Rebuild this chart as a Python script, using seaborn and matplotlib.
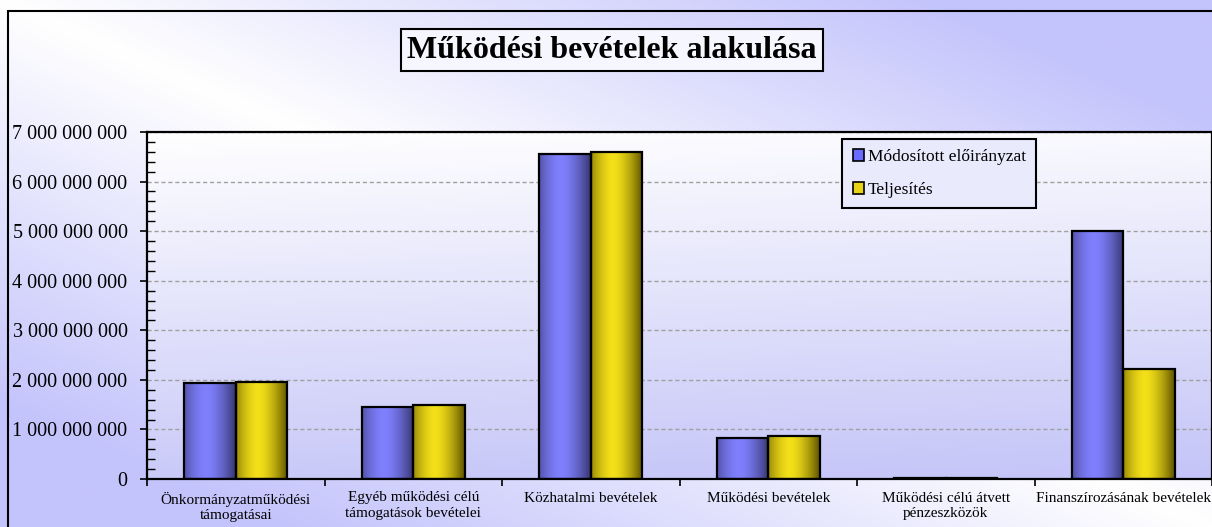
import numpy as np
import pandas as pd
import matplotlib
matplotlib.use("Agg")
import matplotlib.pyplot as plt
import seaborn as sns
import matplotlib.ticker as ticker
from matplotlib.colors import LinearSegmentedColormap
from matplotlib.patches import Patch, Rectangle

# adatok
kategoriak = [
    "Önkormányzatműködési\ntámogatásai",
    "Egyéb működési célú\ntámogatások bevételei",
    "Közhatalmi bevételek",
    "Működési bevételek",
    "Működési célú átvett\npénzeszközök",
    "Finanszírozásának bevételek",
]
modositott = [1.94e9, 1.45e9, 6.56e9, 0.83e9, 0.02e9, 5.01e9]
teljesites = [1.95e9, 1.49e9, 6.59e9, 0.87e9, 0.02e9, 2.22e9]
sorozatok = ["Módosított előirányzat", "Teljesítés"]
cim = "Működési bevételek alakulása"

df = pd.DataFrame({"kategoria": kategoriak, sorozatok[0]: modositott, sorozatok[1]: teljesites})
df = df.melt(id_vars="kategoria", var_name="sorozat", value_name="ertek")

sns.set_theme(style="white")
plt.rcParams['font.family'] = ['Liberation Serif', 'DejaVu Serif']
plt.rcParams['text.color'] = 'black'
plt.rcParams['xtick.color'] = 'black'
plt.rcParams['ytick.color'] = 'black'

kek = '#7070f0'
sarga = '#e8d414'
lila = '#c4c4fc'

fig = plt.figure(figsize=(12.12, 5.27), dpi=100)

# háttér színátmenet (egész ábra)
bg = fig.add_axes([0, 0, 1, 1], zorder=-10)
xx, yy = np.meshgrid(np.linspace(0, 1, 400), np.linspace(0, 1, 200))
bg.imshow(np.clip(np.abs(xx - yy) * 1.3, 0, 1), cmap=LinearSegmentedColormap.from_list('bg', ['#ffffff', lila]),
          aspect='auto', extent=[0, 1, 0, 1], vmin=0, vmax=1)
bg.axis('off')
fig.patches.append(Rectangle((8 / 1212, -0.05), 1.0, (527 - 11) / 527 + 0.05, transform=fig.transFigure,
                             fill=False, edgecolor='black', linewidth=1.5))

pos = [147 / 1212, 48 / 527, 1065 / 1212, 347 / 527]

# rajzterület színátmenet
bg2 = fig.add_axes(pos, zorder=-5)
bg2.imshow(np.clip(yy * 0.9 + xx * 0.1, 0, 1), cmap=LinearSegmentedColormap.from_list('pa', ['#ffffff', '#c4c4f8']),
           aspect='auto', extent=[0, 1, 0, 1], vmin=0, vmax=1)
bg2.axis('off')

ax = fig.add_axes(pos)
ax.patch.set_visible(False)
sns.barplot(data=df, x='kategoria', y='ertek', hue='sorozat', palette=[kek, sarga], width=0.58,
            edgecolor='black', linewidth=1.6, legend=False, ax=ax)

# henger hatás az oszlopokra
u = np.linspace(0, 1, 100)
profil = np.clip(1 - np.abs((u - 0.42) / 0.58) ** 1.6, 0, 1)[np.newaxis, :]
cm_kek = LinearSegmentedColormap.from_list('k', ['#363670', '#8080ff'])
cm_sarga = LinearSegmentedColormap.from_list('s', ['#5e5200', '#f4e018'])
for cont, cm in zip(ax.containers, [cm_kek, cm_sarga]):
    for bar in cont:
        x0, h, w = bar.get_x(), bar.get_height(), bar.get_width()
        if h <= 0:
            continue
        ax.imshow(profil, cmap=cm, aspect='auto', extent=[x0, x0 + w, 0, h], zorder=0.9, vmin=0, vmax=1)
        bar.set_facecolor('none')

ax.set_xlim(-0.5, 5.5)
ax.set_ylim(0, 7e9)
ax.set_xlabel('')
ax.set_ylabel('')

ax.yaxis.set_major_locator(ticker.MultipleLocator(1e9))
ax.yaxis.set_minor_locator(ticker.MultipleLocator(2e8))
ax.yaxis.set_major_formatter(ticker.FuncFormatter(lambda v, p: f'{v:,.0f}'.replace(',', ' ')))
ax.tick_params(axis='y', which='major', direction='out', length=5, width=1.2, left=True, labelsize=14.5, pad=9)
ax.tick_params(axis='y', which='minor', direction='in', length=6, width=1, left=True)
ax.set_xticks(np.arange(-0.5, 6, 1), minor=True)
ax.tick_params(axis='x', which='minor', direction='out', length=5, width=1.2, bottom=True)
ax.tick_params(axis='x', which='major', length=0, labelsize=11, pad=9)

ax.yaxis.grid(True, linestyle=(0, (3, 2)), color='#a0a0a0', linewidth=1)
ax.set_axisbelow(True)
for s in ax.spines.values():
    s.set_color('black')
    s.set_linewidth(1.6)
    s.set_visible(True)

kezelok = [Patch(facecolor=c, edgecolor='black', linewidth=1.2) for c in ['#6a6aff', '#e8d414']]
leg = ax.legend(kezelok, sorozatok, loc='upper left', bbox_to_anchor=(0.653, 0.98), borderaxespad=0,
                fontsize=12.5, frameon=True, fancybox=False, edgecolor='black', facecolor='#eaeafd',
                framealpha=1, handlelength=0.65, handleheight=0.65, handletextpad=0.2, labelspacing=0.95,
                borderpad=0.6)
leg.get_frame().set_linewidth(1.5)

fig.text(0.505, 0.905, cim, ha='center', va='center', fontsize=23, fontweight='bold',
         bbox=dict(boxstyle='square,pad=0.2', facecolor='#f6f6fe', edgecolor='black', linewidth=1.5))

fig.savefig('out.png', dpi=100)
